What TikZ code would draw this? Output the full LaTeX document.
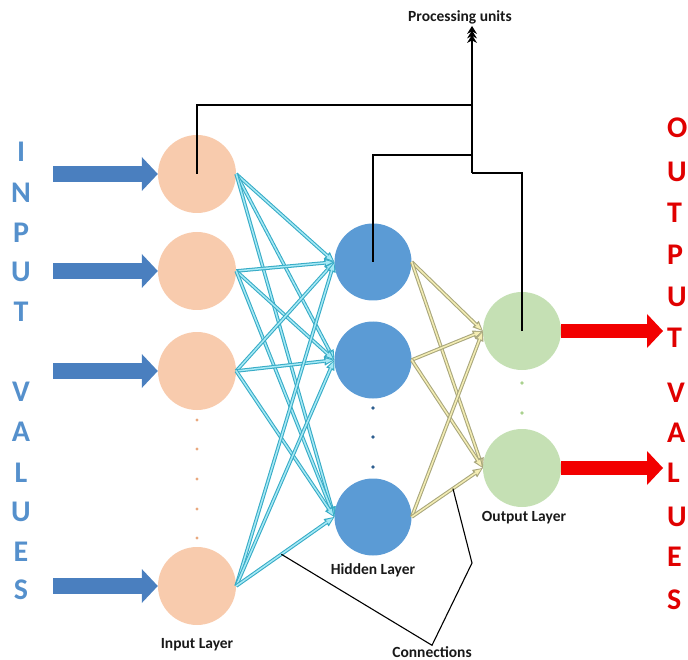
\documentclass[tikz,border=0pt]{standalone}
\usepackage{fontspec}
\setmainfont{Carlito}
\usetikzlibrary{arrows.meta,calc}
\definecolor{peach}{HTML}{F8CBAD}
\definecolor{peachdot}{HTML}{E9A97F}
\definecolor{hblue}{HTML}{5B9BD5}
\definecolor{hdot}{HTML}{2F5F8F}
\definecolor{ogreen}{HTML}{C5E0B4}
\definecolor{odot}{HTML}{A9D18E}
\definecolor{inblue}{HTML}{4A7FBF}
\definecolor{letblue}{HTML}{5590CC}
\definecolor{redarr}{HTML}{F20000}
\definecolor{letred}{HTML}{E00000}
\definecolor{cyanD}{HTML}{36ABC6}
\definecolor{cyanL}{HTML}{A6E9F5}
\definecolor{yelD}{HTML}{A8A67C}
\definecolor{yelL}{HTML}{F4EDB4}
\begin{document}
\begin{tikzpicture}[x=1pt,y=-1pt,
  incirc/.style={circle,fill=peach,minimum size=78pt,inner sep=0pt},
  hcirc/.style={circle,fill=hblue,minimum size=77pt,inner sep=0pt},
  ocirc/.style={circle,fill=ogreen,minimum size=78pt,inner sep=0pt},
  cyanout/.style={draw=cyanD,line width=3.6pt,-{Triangle[length=10pt,width=9pt,line width=0pt]}},
  cyanin/.style={draw=cyanL,line width=1.5pt,shorten >=2pt,-{Triangle[length=6.5pt,width=5pt,line width=0pt]}},
  yelout/.style={draw=yelD,line width=3.6pt,-{Triangle[length=10pt,width=9pt,line width=0pt]}},
  yelin/.style={draw=yelL,line width=1.5pt,shorten >=2pt,-{Triangle[length=6.5pt,width=5pt,line width=0pt]}},
  blockin/.style={draw=inblue,line width=16pt,-{Triangle[length=16pt,width=34pt,line width=0pt]}},
  blockout/.style={draw=redarr,line width=14pt,-{Triangle[length=16pt,width=34pt,line width=0pt]}},
  lbl/.style={font=\fontsize{15.5}{18}\selectfont\bfseries,text=black!90,inner sep=1pt},
  bletter/.style={font=\fontsize{30}{32}\selectfont\bfseries,text=letblue,anchor=base,inner sep=0pt},
  rletter/.style={font=\fontsize{30}{32}\selectfont\bfseries,text=letred,anchor=base west,inner sep=0pt},
  procline/.style={draw=black,line width=1.3pt},
  ptip/.tip={Stealth[length=8pt,width=10pt,line width=0pt]}
]
\useasboundingbox (0,0) rectangle (688,660);

% circles
\node[incirc] (in1) at (197,174) {};
\node[incirc] (in2) at (197,271) {};
\node[incirc] (in3) at (197,371) {};
\node[incirc] (in4) at (197,586) {};
\node[hcirc] (h1) at (373,262) {};
\node[hcirc] (h2) at (373,360) {};
\node[hcirc] (h3) at (373,517) {};
\node[ocirc] (o1) at (522,331) {};
\node[ocirc] (o2) at (522,468) {};

% connections input -> hidden
\foreach \i in {1,...,4}{
  \foreach \j in {1,2,3}{
    \draw[cyanout] (in\i.east) -- (h\j.west);
    \draw[cyanin] (in\i.east) -- (h\j.west);
  }
}
% connections hidden -> output
\foreach \i in {1,2,3}{
  \foreach \j in {1,2}{
    \draw[yelout] (h\i.east) -- (o\j.west);
    \draw[yelin] (h\i.east) -- (o\j.west);
  }
}

% dots
\foreach \y in {420,449,479,509,538} \fill[peachdot] (197,\y) circle (1.7);
\foreach \y in {408,437,467} \fill[hdot] (373,\y) circle (1.9);
\foreach \y in {383,413} \fill[odot] (522,\y) circle (1.9);

% input block arrows
\coordinate (ia1) at (53,174);
\coordinate (ia2) at (53,271);
\coordinate (ia3) at (53,371);
\coordinate (ia4) at (53,586);
\foreach \i in {1,...,4} \draw[blockin] (ia\i) -- (in\i.west);

% output block arrows
\coordinate (oa1) at (663,331);
\coordinate (oa2) at (663,468);
\foreach \i in {1,2} \draw[blockout] (o\i.east) -- (oa\i);

% processing units
\node[lbl] (pu) at (460,17) {Processing units};
\coordinate (pj1) at (472,105);
\coordinate (pj2) at (472,155);
\coordinate (pj3) at (472,173);
\draw[procline] (in1.center) |- (pj1);
\draw[procline] (h1.center) |- (pj2);
\draw[procline] (o1.center) |- (pj3);
\draw[procline,-{ptip[sep=-3.5pt]ptip[sep=-3.5pt]ptip}] (pj3) -- ([yshift=-1pt]pu.south -| pj3);

% layer labels
\node[lbl] (il) at (197,645) {Input Layer};
\node[lbl] (hl) at (373,570) {Hidden Layer};
\node[lbl] (ol) at (524,518) {Output Layer};
\node[lbl] (cn) at (432,652) {Connections};
\coordinate (ca) at ($(in4.east)!0.46!(h3.west)$);
\coordinate (cb) at ($(h3.east)!0.58!(o2.west)$);
\coordinate (cbend) at (472,563);
\draw[draw=black,line width=1.1pt] (ca) -- (cn.north) -- (cbend) -- (cb);

% INPUT VALUES letters
\foreach \t/\y in {I/152,N/193,P/233,U/272,T/312,V/392,A/432,L/473,U/512,E/552,S/590}
  \node[bletter] at (21,\y+9.5) {\t};
% OUTPUT VALUES letters
\foreach \t/\y in {O/128,U/172,T/213,P/255,U/297,T/338,V/393,A/433,L/473,U/517,E/557,S/600}
  \node[rletter] at (667,\y+9.5) {\t};
\end{tikzpicture}
\end{document}
